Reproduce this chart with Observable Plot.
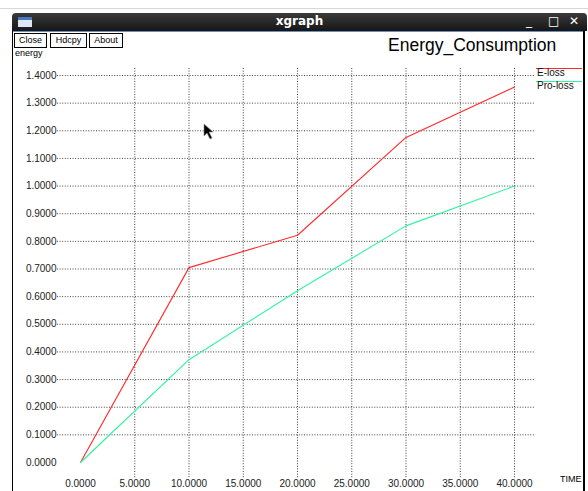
<!DOCTYPE html>
<html>
<head>
<meta charset="utf-8">
<script src="https://cdn.jsdelivr.net/npm/d3@7"></script>
<script src="https://cdn.jsdelivr.net/npm/@observablehq/plot@0.6"></script>
<style>
  html, body { margin: 0; padding: 0; background: #fff; }
  #win { position: relative; width: 588px; height: 491px; overflow: hidden; background: #fff; font-family: "Liberation Sans", Helvetica, Arial, sans-serif; }
  #topline { position: absolute; left: 0; top: 8px; width: 588px; height: 1px; background: #d8d8d8; }
  #titlebar { position: absolute; left: 12px; top: 13px; width: 575px; height: 18px; background: linear-gradient(#3a3a3a, #161616); border-radius: 4px 4px 0 0; color: #fff; }
  #titlebar .t { position: absolute; left: 0; right: 0; top: 1px; text-align: center; font-family: "DejaVu Sans", sans-serif; font-weight: bold; font-size: 12px; }
  #titlebar .icon { position: absolute; left: 6px; top: 4px; width: 14px; height: 10px; background: #dde6f5; border-top: 3px solid #4a78c0; box-sizing: border-box; }
  #titlebar .ctl { position: absolute; top: 1px; font-size: 12px; font-family: "DejaVu Sans", sans-serif; }
  #borderL { position: absolute; left: 12px; top: 31px; width: 1px; height: 460px; background: #000; }
  #borderR { position: absolute; left: 583px; top: 31px; width: 2px; height: 460px; background: #000; }
  #blueline { position: absolute; left: 13px; top: 31px; width: 570px; height: 1px; background: #6a8fc0; }
  .btn { position: absolute; top: 33px; height: 13px; border: 1px solid #000; font-size: 9px; line-height: 13px; text-align: center; color: #000; background: #fff; }
  #energy { position: absolute; left: 15px; top: 48px; font-size: 9px; color: #000; }
  #title { position: absolute; left: 388px; top: 35px; font-size: 17.5px; color: #000; }
  #time { position: absolute; left: 560px; top: 474px; font-size: 9px; color: #000; }
  #plot { position: absolute; left: 0; top: 0; }
  .leg-line { position: absolute; height: 1px; }
  .leg-text { position: absolute; font-size: 10px; color: #111; }
  #cursor { position: absolute; left: 203px; top: 123px; }
</style>
</head>
<body>
<div id="win">
  <div id="topline"></div>
  <div id="titlebar">
    <div class="icon"></div>
    <div class="t">xgraph</div>
    <div class="ctl" style="left:514px">_</div>
    <div class="ctl" style="left:536px">□</div>
    <div class="ctl" style="left:557px">✕</div>
  </div>
  <div id="blueline"></div>
  <div id="borderL"></div>
  <div id="borderR"></div>
  <div class="btn" style="left:14px;width:31px">Close</div>
  <div class="btn" style="left:50px;width:35px">Hdcpy</div>
  <div class="btn" style="left:89px;width:32px">About</div>
  <div id="energy">energy</div>
  <div id="title">Energy_Consumption</div>
  <div id="time">TIME</div>
  <div id="plot"></div>
  <div id="legend"></div>
  <svg id="cursor" width="14" height="18" viewBox="0 0 14 18"><path d="M1 1 L1 13 L4 10 L7 16 L9 15 L6 9 L10 9 Z" fill="#000" stroke="#888" stroke-width="0.6"/></svg>
</div>
<script>
// Data
const times = [0, 10, 20, 30, 40];
const eLoss = [0, 0.705, 0.822, 1.176, 1.358];
const proLoss = [0, 0.372, 0.621, 0.856, 1.0];
const seriesNames = ["E-loss", "Pro-loss"];
const seriesColors = ["#ff2a2a", "#2cf59a"];
const xTicks = [0, 5, 10, 15, 20, 25, 30, 35, 40];
const yTicks = [0, 0.1, 0.2, 0.3, 0.4, 0.5, 0.6, 0.7, 0.8, 0.9, 1.0, 1.1, 1.2, 1.3, 1.4];

const rows = [];
[eLoss, proLoss].forEach((vals, i) => {
  times.forEach((t, j) => rows.push({series: seriesNames[i], time: t, value: vals[j]}));
});

const gridStyle = {stroke: "#000", strokeOpacity: 0.75, strokeDasharray: "1,1.6", strokeWidth: 1};

const chart = Plot.plot({
  width: 588,
  height: 491,
  marginLeft: 80,
  marginRight: 74,
  marginTop: 75,
  marginBottom: 29,
  style: {background: "transparent", fontFamily: "Liberation Sans, Helvetica, Arial, sans-serif", fontSize: "10px", color: "#222"},
  x: {domain: [0, 40]},
  y: {domain: [0, 1.4]},
  color: {domain: seriesNames, range: seriesColors},
  marks: [
    Plot.gridY(yTicks.filter(v => v > 0), {...gridStyle, insetLeft: -23, insetRight: -21}),
    Plot.gridX(xTicks.filter(v => v > 0), {...gridStyle, insetTop: -7, insetBottom: -16}),
    Plot.axisY(yTicks, {tickFormat: d3.format(".4f"), tickSize: 0, tickPadding: 24, label: null, fontSize: 10, fill: "#222"}),
    Plot.axisX(xTicks, {tickFormat: d3.format(".4f"), tickSize: 0, tickPadding: 17, label: null, fontSize: 10, fill: "#222"}),
    Plot.line(rows, {x: "time", y: "value", z: "series", stroke: "series", strokeWidth: 1.1})
  ]
});
document.getElementById("plot").appendChild(chart);

// Legend (xgraph style: line above each name on the right)
const legend = document.getElementById("legend");
seriesNames.forEach((name, i) => {
  const top = 68 + i * 13;
  const ln = document.createElement("div");
  ln.className = "leg-line";
  ln.style.cssText = `left:536px;top:${top}px;width:46px;background:${seriesColors[i]}`;
  legend.appendChild(ln);
  const tx = document.createElement("div");
  tx.className = "leg-text";
  tx.style.cssText = `left:537px;top:${top - 1}px`;
  tx.textContent = name;
  legend.appendChild(tx);
});
</script>
</body>
</html>
